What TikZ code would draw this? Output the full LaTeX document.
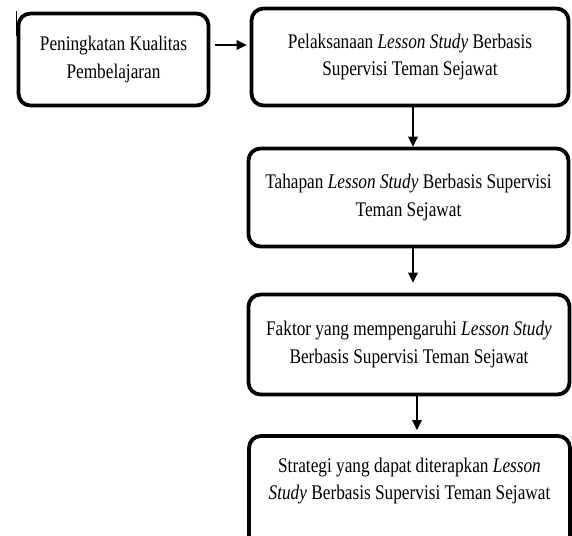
\documentclass[tikz,border=0pt]{standalone}
\usepackage{fontspec}
\setmainfont{Liberation Serif}[FakeStretch=0.83]
\usetikzlibrary{arrows.meta}
\tikzset{
  flowbox/.style={draw=black, line width=3.8pt, rounded corners=12pt, align=center,
    font=\fontsize{20.8pt}{27.5pt}\selectfont, inner sep=0pt},
  flowtext/.style={align=center, font=\fontsize{20.8pt}{27.5pt}\selectfont, inner sep=0pt},
  arr/.style={line width=1.7pt, -{Triangle[length=10pt,width=9.5pt]}}
}
\begin{document}
\begin{tikzpicture}[x=1pt,y=1pt]
\useasboundingbox (0,0) rectangle (572,-535);
\node[flowbox, minimum width=190pt, minimum height=92pt] (b1) at (113.5,-59.5)
  {Peningkatan Kualitas\\Pembelajaran};
\node[flowbox, minimum width=317pt, minimum height=97pt] (b2) at (410,-57)
  {Pelaksanaan \textit{Lesson Study} Berbasis\\Supervisi Teman Sejawat};
\node[flowbox, minimum width=320pt, minimum height=98pt] (b3) at (408.5,-197.5)
  {Tahapan \textit{Lesson Study} Berbasis Supervisi\\Teman Sejawat};
\node[flowbox, minimum width=321pt, minimum height=100pt] (b4) at (409,-344.5)
  {Faktor yang mempengaruhi \textit{Lesson Study}\\Berbasis Supervisi Teman Sejawat};
\node[flowbox, minimum width=321pt, minimum height=124pt] (b5) at (409.5,-498) {};
\node[flowtext] (t5) at (409.5,-481)
  {Strategi yang dapat diterapkan \textit{Lesson}\\\textit{Study} Berbasis Supervisi Teman Sejawat};
% stray edge line
\coordinate (s1) at (16.5,-11);
\coordinate (s2) at (16.5,-36);
\draw[line width=0.8pt] (s1) -- (s2);
% connectors
\coordinate (ya) at (0,-45);
\coordinate (xa) at (413,0);
\coordinate (xb) at (417,0);
\draw[arr, shorten <=5pt, shorten >=3pt] (b1.east |- ya) -- (b2.west |- ya);
\draw[arr] (b2.south -| xa) -- (b3.north -| xa);
\draw[arr, shorten >=10pt] (b3.south -| xa) -- (b4.north -| xa);
\draw[arr, shorten >=4pt] (b4.south -| xb) -- (b5.north -| xb);
\end{tikzpicture}
\end{document}
